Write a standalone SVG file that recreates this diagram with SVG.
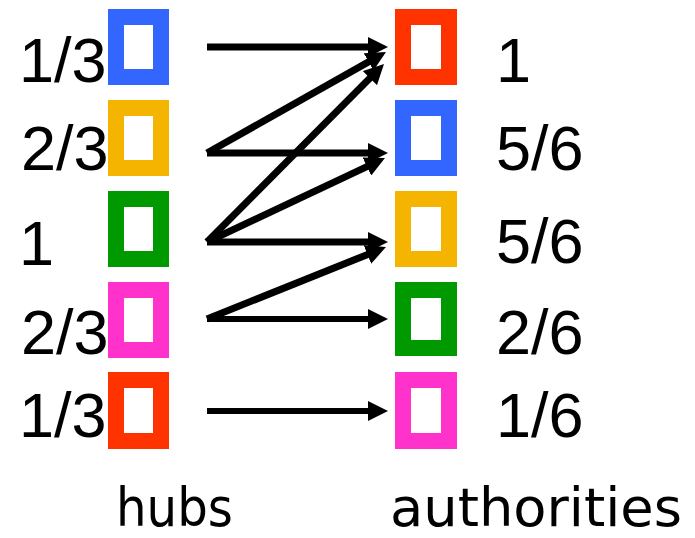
<svg xmlns="http://www.w3.org/2000/svg" width="695" height="538" viewBox="0 0 695 538">
<style>
.box{fill:#fff;stroke-width:16}
.num{font-family:"Liberation Sans",Arial,sans-serif;font-size:63px;fill:#000}
.cap{font-family:"DejaVu Sans",Verdana,sans-serif;font-size:54px;fill:#000}
.arr{stroke:#000;stroke-width:7;fill:none;marker-end:url(#ah)}
</style>
<defs>
<marker id="ah" markerUnits="userSpaceOnUse" markerWidth="20" markerHeight="20" viewBox="0 0 20 20" refX="3" refY="10" orient="auto">
<path d="M0,0 L20,10 L0,20 z" fill="#000"/>
</marker>
</defs>
<rect width="695" height="538" fill="#fff"/>
<g id="hub1"><rect class="box" x="116" y="17" width="45" height="60" stroke="#3366FF"/><text class="num" x="19" y="82">1/3</text></g>
<g id="hub2"><rect class="box" x="116" y="108" width="45" height="60" stroke="#F4B400"/><text class="num" x="21" y="170">2/3</text></g>
<g id="hub3"><rect class="box" x="116" y="199" width="45" height="60" stroke="#009900"/><text class="num" x="19" y="265">1</text></g>
<g id="hub4"><rect class="box" x="116" y="290" width="45" height="60" stroke="#FF33CC"/><text class="num" x="21" y="354">2/3</text></g>
<g id="hub5"><rect class="box" x="116" y="380" width="45" height="61" stroke="#FF3300"/><text class="num" x="19" y="437">1/3</text></g>
<g id="auth1"><rect class="box" x="403" y="17" width="46" height="60" stroke="#FF3300"/><text class="num" x="496" y="82">1</text></g>
<g id="auth2"><rect class="box" x="403" y="108" width="46" height="60" stroke="#3366FF"/><text class="num" x="496" y="170">5/6</text></g>
<g id="auth3"><rect class="box" x="403" y="199" width="46" height="60" stroke="#F4B400"/><text class="num" x="496" y="263">5/6</text></g>
<g id="auth4"><rect class="box" x="403" y="290" width="46" height="58" stroke="#009900"/><text class="num" x="496" y="354">2/6</text></g>
<g id="auth5"><rect class="box" x="403" y="380" width="46" height="61" stroke="#FF33CC"/><text class="num" x="496" y="437">1/6</text></g>
<g id="connectors">
<line class="arr" x1="207" y1="47" x2="371" y2="47"/>
<line class="arr" x1="207" y1="153" x2="371.2" y2="60.4"/>
<line class="arr" x1="207" y1="153" x2="371" y2="153"/>
<line class="arr" x1="207" y1="242" x2="372" y2="76"/>
<line class="arr" x1="207" y1="242" x2="369.6" y2="165.3"/>
<line class="arr" x1="207" y1="242" x2="371" y2="242"/>
<line class="arr" x1="207" y1="319" x2="370.2" y2="253.4"/>
<line class="arr" x1="207" y1="319" x2="371" y2="319" style="stroke-width:6"/>
<line class="arr" x1="207" y1="411" x2="371" y2="411" style="stroke-width:6"/>
</g>
<text class="cap" x="116" y="526" textLength="117" lengthAdjust="spacingAndGlyphs">hubs</text>
<text class="cap" x="390" y="526" textLength="292" lengthAdjust="spacingAndGlyphs">authorities</text>
</svg>
